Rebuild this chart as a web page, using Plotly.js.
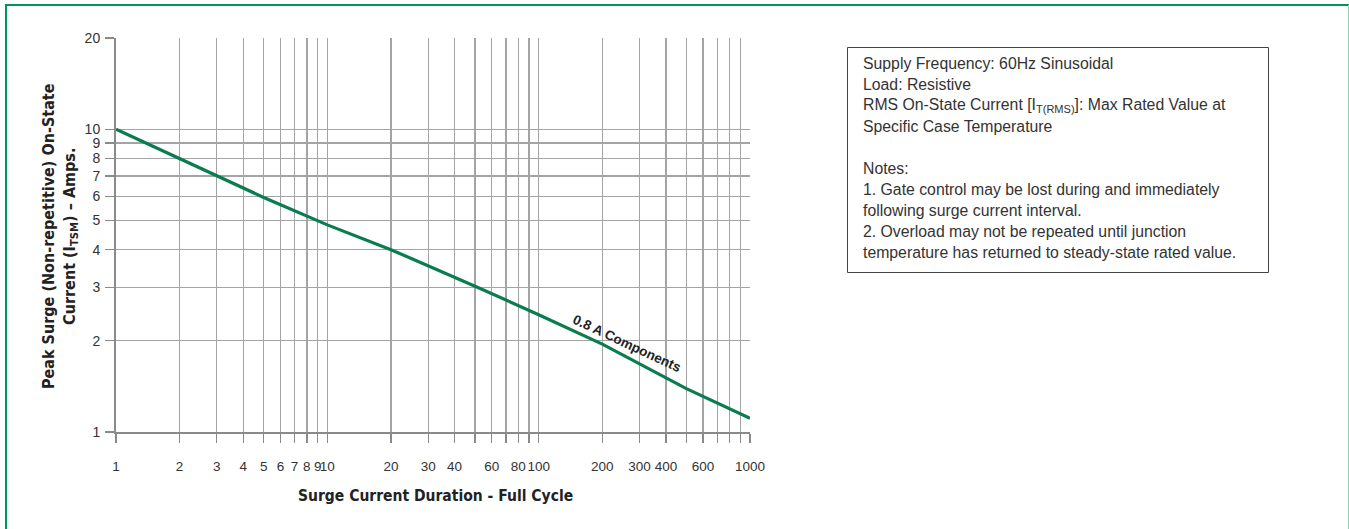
<!DOCTYPE html>
<html>
<head>
<meta charset="utf-8">
<script src="https://cdn.plot.ly/plotly-3.0.1.min.js"></script>
<style>
html,body{margin:0;padding:0;background:#fff;}
#chart{width:1349px;height:529px;}
</style>
</head>
<body>
<div id="chart"></div>
<script>
// ---- data ----
const cycles = [1, 5, 10, 20, 50, 100, 200, 500, 1000];
const peakSurgeAmps = [10, 5.95, 4.83, 4.0, 3.03, 2.44, 1.95, 1.39, 1.11];
const seriesLabel = "0.8 A Components";

const xTickVals = [1,2,3,4,5,6,7,8,9,10,20,30,40,60,80,100,200,300,400,600,1000];
const xTickText = ["1","2","3","4","5","6","7","8","9","10","20","30","40","60","80","100","200","300","400","600","1000"];
const xMinorVals = [50,70,90,500,700,800,900];
const yTickVals = [1,2,3,4,5,6,7,8,9,10,20];
const yTickText = ["1","2","3","4","5","6","7","8","9","10","20"];

const xTitle = "Surge Current Duration - Full Cycle";
const yTitle = "Peak Surge (Non-repetitive) On-State<br>Current (I<sub>TSM</sub>) – Amps.";

const noteLines = [
  "Supply Frequency: 60Hz Sinusoidal",
  "Load: Resistive",
  "RMS On-State Current [I<sub>T(RMS)</sub>]: Max Rated Value at",
  "Specific Case Temperature",
  "",
  "Notes:",
  "1. Gate control may be lost during and immediately",
  "following surge current interval.",
  "2. Overload may not be repeated until junction",
  "temperature has returned to steady-state rated value."
];

// ---- layout helpers (pixel -> paper) ----
const L = 116, R = 750, T = 38, B = 432, W = 1349, H = 529;
const px = v => (v - L) / (R - L);
const py = v => (B - v) / (B - T);

const green = '#00955a';
const curveColor = '#0a7d4e';
const txt = '#333333';
const condBold = 'DejaVu Sans Condensed, Liberation Sans, Arial, sans-serif';

const annotations = [];
// curve label
annotations.push({
  x: Math.log10(250), y: Math.log10(1.8), xref: 'x', yref: 'y',
  text: '<b>' + seriesLabel + '</b>', showarrow: false, textangle: 25,
  xshift: 4, yshift: 11,
  font: {family: 'Liberation Sans, Arial, sans-serif', size: 13.5, color: '#222'}
});
// x title
annotations.push({
  x: px(435), y: py(496), xref: 'paper', yref: 'paper',
  text: '<b>' + xTitle + '</b>', showarrow: false, xanchor: 'center', yanchor: 'middle',
  font: {family: condBold, size: 15.5, color: '#222'}
});
// y title
annotations.push({
  x: px(60), y: py(236), xref: 'paper', yref: 'paper',
  text: '<b>' + yTitle + '</b>', showarrow: false, textangle: -90, xanchor: 'center', yanchor: 'middle',
  font: {family: condBold, size: 16, color: '#222'}
});
// notes
noteLines.forEach((s, i) => {
  if (!s) return;
  annotations.push({
    x: px(861), y: py(64 + i * 20.9), xref: 'paper', yref: 'paper',
    text: s, showarrow: false, xanchor: 'left', yanchor: 'middle', align: 'left',
    font: {family: 'Liberation Sans, Arial, sans-serif', size: 15.8, color: txt}
  });
});

const shapes = [
  // notes box
  {type: 'rect', xref: 'paper', yref: 'paper', x0: px(847.5), x1: px(1268.5), y0: py(272.5), y1: py(47.5),
   line: {color: '#444', width: 1}, fillcolor: 'rgba(0,0,0,0)'},
  // outer green frame
  {type: 'line', xref: 'paper', yref: 'paper', x0: px(6), x1: px(6), y0: py(4), y1: py(H + 5),
   line: {color: green, width: 2}},
  {type: 'line', xref: 'paper', yref: 'paper', x0: px(6), x1: px(1349), y0: py(5), y1: py(5),
   line: {color: green, width: 2}},
  {type: 'line', xref: 'paper', yref: 'paper', x0: px(1348.5), x1: px(1348.5), y0: py(5), y1: py(H + 5),
   line: {color: '#8ed3b9', width: 1}}
];

const trace = {
  x: cycles, y: peakSurgeAmps, type: 'scatter', mode: 'lines',
  line: {color: curveColor, width: 3.2}, name: seriesLabel, hoverinfo: 'skip'
};

const axisCommon = {
  showgrid: true, gridcolor: '#a4a4a4', gridwidth: 1.3,
  showline: true, linecolor: '#8a8a8a', linewidth: 2,
  ticks: 'outside', ticklen: 9, tickwidth: 1.3, tickcolor: '#8a8a8a',
  zeroline: false, tickmode: 'array', tickangle: 0
};

const layout = {
  width: W, height: H,
  margin: {l: L, r: W - R, t: T, b: H - B, pad: 0},
  paper_bgcolor: '#fff', plot_bgcolor: '#fff',
  showlegend: false,
  xaxis: Object.assign({}, axisCommon, {
    type: 'log', range: [0, 3], tickvals: xTickVals, ticktext: xTickText, ticklabelstandoff: 12,
    tickfont: {family: 'Liberation Sans, Arial, sans-serif', size: 13.5, color: txt},
    minor: {tickmode: 'array', tickvals: xMinorVals, showgrid: true, gridcolor: '#a4a4a4', gridwidth: 1.3,
            ticks: 'outside', ticklen: 9, tickwidth: 1.3, tickcolor: '#8a8a8a'}
  }),
  yaxis: Object.assign({}, axisCommon, {
    type: 'log', range: [0, Math.log10(20)], tickvals: yTickVals, ticktext: yTickText,
    tickfont: {family: 'Liberation Sans, Arial, sans-serif', size: 14, color: txt}, ticklabelstandoff: 2
  }),
  annotations: annotations,
  shapes: shapes
};

Plotly.newPlot('chart', [trace], layout, {staticPlot: true, displayModeBar: false});
</script>
</body>
</html>
